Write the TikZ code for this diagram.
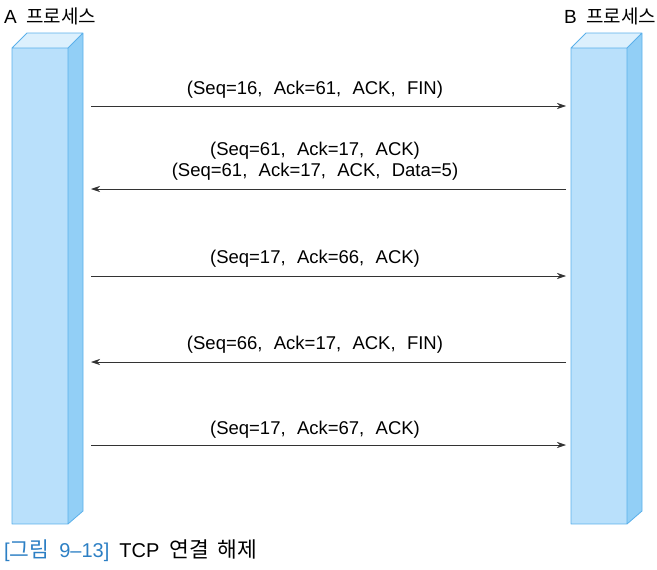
\documentclass[tikz,border=0pt]{standalone}
\usepackage{fontspec}
\setmainfont{Liberation Sans}[WordSpace=2.2]
\newfontfamily\plain{Liberation Sans}[WordSpace=1.8]
\newfontfamily\kr{Noto Sans CJK KR}[WordSpace=1.8]
\usetikzlibrary{arrows.meta}
\definecolor{boxfront}{HTML}{B9E0FB}
\definecolor{boxside}{HTML}{92CFF6}
\definecolor{boxtop}{HTML}{DCF0FD}
\definecolor{boxedge}{HTML}{5BB0EA}
\definecolor{capblue}{HTML}{2C7FC4}
\tikzset{
  msg/.style={draw=black!80, line width=0.6pt, -{Stealth[length=9pt,width=6pt]}},
  lbl/.style={font=\fontsize{18.5}{21}\selectfont, inner sep=1pt},
  proc/.style={font=\plain\fontsize{19}{22}\selectfont, anchor=west, inner sep=0pt},
  capt/.style={font=\plain\fontsize{20}{23}\selectfont, anchor=west, inner sep=0pt},
}
\newcommand{\procbox}[2]{% left x, name
  \fill[boxside] (#1+56,48) -- (#1+71,33) -- (#1+71,511) -- (#1+56,524) -- cycle;
  \fill[boxtop] (#1,48) -- (#1+15,33) -- (#1+71,33) -- (#1+56,48) -- cycle;
  \fill[boxfront] (#1,48) rectangle (#1+56,524);
  \draw[boxedge, line width=0.8pt, line join=round]
    (#1,524) -- (#1,48) -- (#1+15,33) -- (#1+71,33) -- (#1+71,511) -- (#1+56,524) -- cycle
    (#1,48) -- (#1+56,48) -- (#1+56,524) (#1+56,48) -- (#1+71,33);
}
\newcommand{\krbig}[1]{{\kr\fontsize{21.5}{23}\selectfont #1}}
\begin{document}
\begin{tikzpicture}[x=1pt, y=-1pt]
  \useasboundingbox (0,0) rectangle (657,570);
  % processes
  \procbox{12}{A}
  \procbox{571}{B}
  \node[proc] (pa) at (4,16) {A\ {\kr 프로세스}};
  \node[proc] (pb) at (564,16) {B\ {\kr 프로세스}};
  % ends of the messages
  \foreach \i/\y in {1/106, 2/189, 3/276, 4/362, 5/445} {
    \coordinate (a\i) at (91,\y);
    \coordinate (b\i) at (566,\y);
  }
  \draw[msg] (a1) -- (b1);
  \draw[msg] (b2) -- (a2);
  \draw[msg] (a3) -- (b3);
  \draw[msg] (b4) -- (a4);
  \draw[msg] (a5) -- (b5);
  % labels
  \node[lbl] (m1) at (315,90) {(Seq=16, Ack=61, ACK, FIN)};
  \node[lbl] (m2) at (315,151) {(Seq=61, Ack=17, ACK)};
  \node[lbl] (m2b) at (315,172) {(Seq=61, Ack=17, ACK, Data=5)};
  \node[lbl] (m3) at (315,259) {(Seq=17, Ack=66, ACK)};
  \node[lbl] (m4) at (315,345) {(Seq=66, Ack=17, ACK, FIN)};
  \node[lbl] (m5) at (315,430) {(Seq=17, Ack=67, ACK)};
  % caption
  \node[capt] (cap) at (4,551) {\textcolor{capblue}{[\krbig{그림} 9–13]} TCP \krbig{연결 해제}};
\end{tikzpicture}
\end{document}
